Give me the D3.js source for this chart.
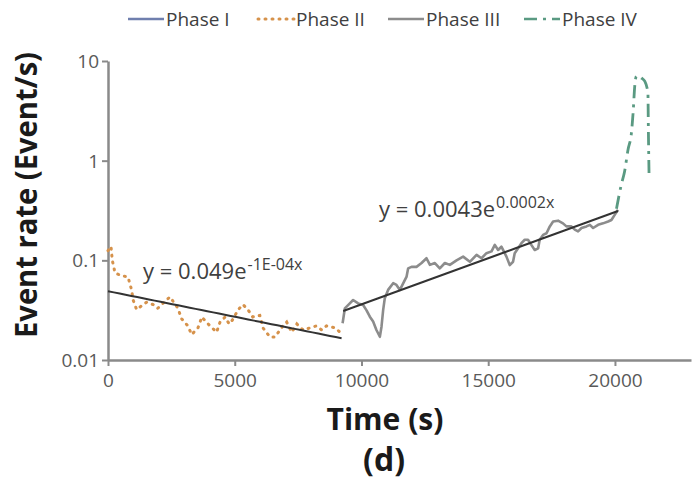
<!DOCTYPE html>
<html>
<head>
<meta charset="utf-8">
<script src="https://cdn.jsdelivr.net/npm/d3@7"></script>
<style>
  html, body { margin: 0; padding: 0; background: #fff; }
  svg { display: block; }
</style>
</head>
<body>
<svg id="chart" width="692" height="484"></svg>
<script>
// Time (s) and event rate (events/s) for each phase of the test
const phase2Time = [0, 118, 170, 276, 473, 790, 935, 990, 1130, 1260, 1525, 1780, 1960, 2445, 2760, 2900, 3150, 3300, 3550, 3700, 3950, 4285, 4420, 4620,
  4780, 4900, 5140, 5325, 5520, 5710, 5990, 6115, 6390, 6590, 6900, 7050, 7250, 7450, 7700, 7970, 8230, 8430, 8620, 8970, 9150];
const phase2Rate = [0.125, 0.138, 0.1, 0.075, 0.071, 0.068, 0.05, 0.04, 0.032, 0.034, 0.038, 0.036, 0.033, 0.043, 0.033, 0.026, 0.022, 0.018, 0.021, 0.027, 0.023, 0.019, 0.024, 0.027,
  0.023, 0.025, 0.032, 0.036, 0.032, 0.027, 0.028, 0.021, 0.017, 0.017, 0.022, 0.024, 0.019, 0.023, 0.020, 0.021, 0.022, 0.020, 0.022, 0.021, 0.019];

const phase3Time = [9255, 9345, 9540, 9670, 9870, 10065, 10200, 10330, 10460, 10590, 10725, 10790, 10855, 10920, 11050, 11250, 11380, 11515, 11650, 11780, 11840, 11975,
  12170, 12370, 12565, 12700, 12895, 13090, 13290, 13485, 13750, 14010, 14275, 14540, 14735, 14930, 15130, 15260, 15390, 15520, 15720, 15850, 15980, 16045, 16180, 16310,
  16440, 16570, 16700, 16835, 16970, 17030, 17165, 17300, 17430, 17560, 17755, 17950, 18085, 18280, 18415, 18545, 18680, 18875, 19010, 19140, 19335, 19530, 19730, 19860, 19990, 20120];
const phase3Rate = [0.0234, 0.033, 0.037, 0.040, 0.037, 0.0356, 0.0315, 0.0272, 0.0243, 0.020, 0.0171, 0.0216, 0.0316, 0.0417, 0.0505, 0.059, 0.0566, 0.0505, 0.059, 0.0687, 0.083, 0.086,
  0.086, 0.094, 0.105, 0.090, 0.094, 0.083, 0.094, 0.090, 0.100, 0.109, 0.0967, 0.1135, 0.105, 0.118, 0.123, 0.143, 0.127, 0.137, 0.109, 0.0895, 0.0967, 0.118, 0.132, 0.149,
  0.161, 0.161, 0.143, 0.127, 0.132, 0.161, 0.180, 0.187, 0.219, 0.245, 0.25, 0.235, 0.219, 0.219, 0.203, 0.195, 0.211, 0.219, 0.227, 0.211, 0.227, 0.235, 0.245, 0.254, 0.286, 0.322];

const phase4Time = [20060, 20250, 20380, 20515, 20650, 20715, 20780, 20845, 20940, 21040, 21175, 21300, 21320, 21345];
const phase4Rate = [0.33, 0.574, 0.78, 1.29, 1.9, 3.0, 5.58, 7.03, 7.1, 6.77, 6.27, 4.79, 1.9, 0.72];

// Exponential fits y = a·e^(b·x) over phases II and III
const fitNames = ["phase2", "phase3"];
const fitA = [0.049, 0.0043];
const fitB = [-0.000118, 0.000213];
const fitStart = [0, 9280];
const fitEnd = [9215, 20120];

const legendNames = ["Phase I", "Phase II", "Phase III", "Phase IV"];
const xTicks = [0, 5000, 10000, 15000, 20000];
const yTicks = [0.01, 0.1, 1, 10];
const yTickLabels = ["0.01", "0.1", "1", "10"];

const colors = { p1: "#6f7fae", p2: "#d6924b", p3: "#8c8c8c", p4: "#5a9a82", fit: "#333333", axis: "#8a8a8a", text: "#595959" };
const FONT = "'Open Sans', 'DejaVu Sans', sans-serif";

const svg = d3.select("#chart");
const x = d3.scaleLinear().domain([0, 23000]).range([108, 691]);
const y = d3.scaleLog().domain([0.01, 10]).range([360, 61]);

// Axes
const xAxis = svg.append("g").attr("transform", `translate(0,${y(0.01)})`)
  .call(d3.axisBottom(x).tickValues(xTicks).tickFormat(d3.format("d")).tickSize(6).tickSizeOuter(0));
const yAxis = svg.append("g").attr("transform", `translate(${x(0)},0)`)
  .call(d3.axisLeft(y).tickValues(yTicks).tickFormat((d, i) => yTickLabels[i]).tickSize(6).tickSizeOuter(0));
[xAxis, yAxis].forEach(g => {
  g.select(".domain").attr("stroke", colors.axis).attr("stroke-width", 2.5);
  g.selectAll(".tick line").attr("stroke", colors.axis).attr("stroke-width", 2);
  g.selectAll(".tick text").attr("fill", colors.text).style("font-family", FONT).style("font-size", "19px");
});
xAxis.selectAll(".tick text").attr("dy", "0.95em");
yAxis.selectAll(".tick text").attr("x", -9).attr("dy", "0.35em");

// Data lines
const line = d3.line().x(d => x(d[0])).y(d => y(d[1])).curve(d3.curveLinear);
const zip = (a, b) => a.map((v, i) => [v, b[i]]);

svg.append("path").datum(zip(phase3Time, phase3Rate)).attr("d", line)
  .attr("fill", "none").attr("stroke", colors.p3).attr("stroke-width", 2.6).attr("stroke-linejoin", "round");

svg.append("path").datum(zip(phase2Time, phase2Rate)).attr("d", line)
  .attr("fill", "none").attr("stroke", colors.p2).attr("stroke-width", 3)
  .attr("stroke-linecap", "round").attr("stroke-dasharray", "1,6");

svg.append("path").datum(zip(phase4Time, phase4Rate)).attr("d", d3.line().x(d => x(d[0])).y(d => y(d[1])).curve(d3.curveMonotoneX))
  .attr("fill", "none").attr("stroke", colors.p4).attr("stroke-width", 2.8)
  .attr("stroke-dasharray", "13,6,3,6");

// Trend lines sampled from the fitted equations
fitNames.forEach((n, i) => {
  const pts = d3.range(0, 41).map(k => {
    const t = fitStart[i] + (fitEnd[i] - fitStart[i]) * k / 40;
    return [t, fitA[i] * Math.exp(fitB[i] * t)];
  });
  svg.append("path").datum(pts).attr("d", line)
    .attr("fill", "none").attr("stroke", colors.fit).attr("stroke-width", 2);
});

// Exponent in spreadsheet "General" style: plain decimal if it fits in 6 characters, else scientific
const fmtB = b => {
  const plain = d3.format(".1r")(b).replace("−", "-");
  if (plain.length <= 6) return plain;
  const [m, e] = b.toExponential(0).toUpperCase().split("E");
  const ev = Math.abs(+e);
  return `${m}E${+e < 0 ? "-" : "+"}${String(ev).padStart(2, "0")}`;
};
const eqPos = [[143, 279], [379, 217]];
fitNames.forEach((n, i) => {
  const t = svg.append("text").attr("x", eqPos[i][0]).attr("y", eqPos[i][1])
    .style("font-family", FONT).style("font-size", "22px").attr("fill", "#404040");
  t.append("tspan").text(`y = ${fitA[i]}e`);
  t.append("tspan").attr("dy", -9).attr("dx", 1).style("font-size", "16px").text(`${fmtB(fitB[i])}x`);
});

// Axis titles
const titleStyle = s => s.style("font-family", FONT).style("font-weight", "bold").attr("fill", "#1a1a1a").attr("text-anchor", "middle");
svg.append("text").attr("transform", "translate(37,195) rotate(-90)").call(titleStyle)
  .style("font-size", "30px").attr("textLength", 286).attr("lengthAdjust", "spacingAndGlyphs")
  .text("Event rate (Event/s)");
svg.append("text").attr("x", 385).attr("y", 430).call(titleStyle)
  .style("font-size", "31px").attr("textLength", 117).attr("lengthAdjust", "spacingAndGlyphs")
  .text("Time (s)");
svg.append("text").attr("x", 384).attr("y", 471).call(titleStyle)
  .style("font-size", "32px")
  .text("(d)");

// Legend
const legendX = [128, 258, 388, 524];
const legendStyle = [
  { c: colors.p1, dash: null, cap: "butt", w: 2.5 },
  { c: colors.p2, dash: "1,6", cap: "round", w: 3 },
  { c: colors.p3, dash: null, cap: "butt", w: 2.5 },
  { c: colors.p4, dash: "13,6,3,6", cap: "butt", w: 2.5 }
];
legendNames.forEach((name, i) => {
  const g = svg.append("g").attr("transform", `translate(${legendX[i]},19)`);
  g.append("line").attr("x1", 0).attr("x2", 36).attr("y1", 0).attr("y2", 0)
    .attr("stroke", legendStyle[i].c).attr("stroke-width", legendStyle[i].w)
    .attr("stroke-linecap", legendStyle[i].cap).attr("stroke-dasharray", legendStyle[i].dash);
  g.append("text").attr("x", 38).attr("y", 0).attr("dy", "0.35em")
    .style("font-family", FONT).style("font-size", "19px").attr("fill", "#404040").text(name);
});
</script>
</body>
</html>
